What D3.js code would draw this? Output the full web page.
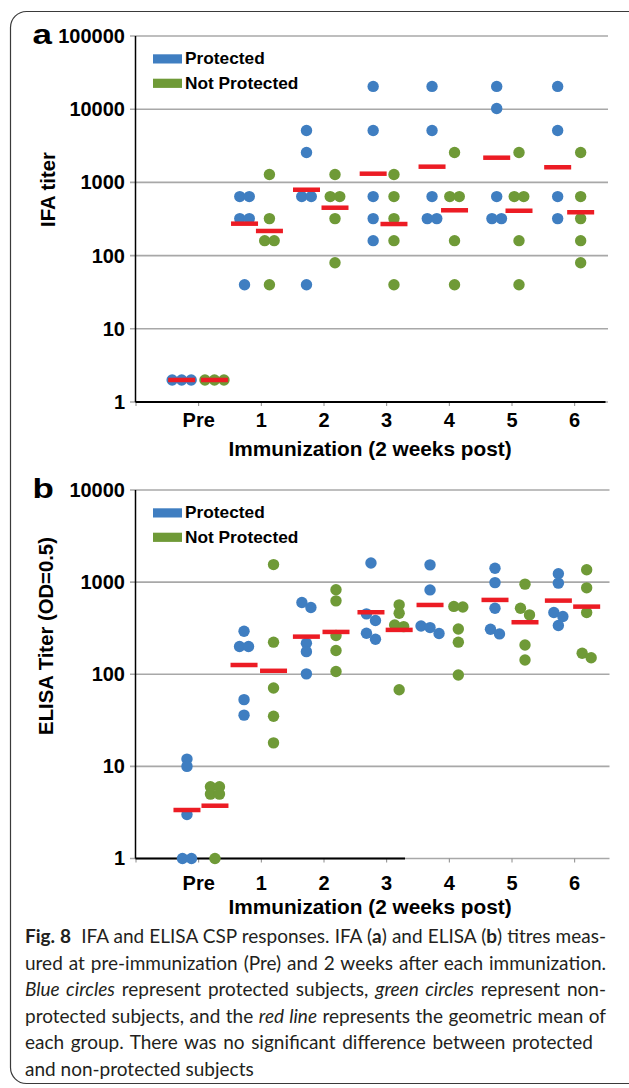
<!DOCTYPE html>
<html>
<head>
<meta charset="utf-8">
<script src="https://cdn.jsdelivr.net/npm/d3@7"></script>
<style>
  body { margin: 0; background: #fff; }
  svg { display: block; }
</style>
</head>
<body>
<svg width="629" height="1088"></svg>
<script>
// ---- data ----
const categories = ['Pre', '1', '2', '3', '4', '5', '6'];
const legendLabels = ['Protected', 'Not Protected'];

// panel a: IFA titres, one list per immunization
const ifaTicks = [1, 10, 100, 1000, 10000, 100000];
const ifaProtected = [
  [2, 2, 2],
  [640, 640, 320, 320, 40],
  [5120, 2560, 640, 640, 40],
  [20480, 5120, 640, 320, 160],
  [20480, 5120, 640, 320, 320],
  [20480, 10240, 640, 320, 320],
  [20480, 5120, 640, 320]
];
const ifaNotProtected = [
  [2, 2, 2],
  [1280, 320, 160, 160, 40],
  [1280, 640, 640, 320, 80],
  [1280, 640, 320, 160, 40],
  [2560, 640, 640, 160, 40],
  [2560, 640, 640, 160, 40],
  [2560, 640, 320, 160, 80]
];
// red bars = geometric means as drawn
const ifaMeanProtected = [2, 273, 794, 1315, 1640, 2175, 1610];
const ifaMeanNotProtected = [2, 217, 451, 270, 416, 410, 391];

// panel b: ELISA titres
const elisaTicks = [1, 10, 100, 1000, 10000];
const elisaProtected = [
  [12, 10, 3, 1, 1],
  [293, 200, 200, 53, 36],
  [600, 530, 217, 176, 101],
  [1610, 452, 383, 279, 240],
  [1540, 823, 334, 321, 277],
  [1416, 988, 521, 308, 274],
  [1231, 975, 468, 423, 338]
];
const elisaNotProtected = [
  [6, 6, 5, 5, 1],
  [1550, 223, 71, 35, 18],
  [825, 626, 263, 181, 107],
  [567, 460, 343, 329, 68],
  [545, 538, 310, 223, 98],
  [951, 521, 441, 208, 143],
  [1361, 867, 468, 169, 151]
];
const elisaMeanProtected = [3.36, 126, 256, 471, 565, 641, 630];
const elisaMeanNotProtected = [3.74, 109, 288, 303, null, 367, 542]; // no bar visible for 4

const captionLines = [
  [['Fig. 8', 'b'], ['  IFA and ELISA CSP responses. IFA ('], ['a', 'b'], [') and ELISA ('], ['b', 'b'], [') titres meas-']],
  [['ured at pre-immunization (Pre) and 2 weeks after each immunization.']],
  [['Blue circles', 'i'], [' represent protected subjects, '], ['green circles', 'i'], [' represent non-']],
  [['protected subjects, and the '], ['red line', 'i'], [' represents the geometric mean of']],
  [['each group. There was no significant difference between protected']],
  [['and non-protected subjects']]
];

(function (d3) {
  'use strict';

  const svg = d3.select('svg');

  const blue = '#3f7ec1';
  const green = '#6f9a37';
  const red = '#ec1c24';
  const gridColor = '#a8a8a8';
  const boldFont = "'Liberation Sans', Arial, sans-serif";

  // same x for both panels, Pre sits at 1, 6 at 7
  const xScale = d3.scaleLinear().domain([0, 7.5]).range([135.5, 605.5]);

  // frame round the whole figure (right side runs off the page)
  svg.append('rect')
    .attr('x', 10.5).attr('y', 11.5)
    .attr('width', 640).attr('height', 1072)
    .attr('rx', 16)
    .attr('fill', 'none')
    .attr('stroke', '#3a3a3a')
    .attr('stroke-width', 1.2);

  // points that sit on top of each other get pushed apart sideways
  const spreadDots = (values, yScale, minGap, step) => {
    const sorted = values.map(v => ({ v, y: yScale(v) })).sort((a, b) => a.y - b.y);
    const bunches = [];
    sorted.forEach(d => {
      const last = bunches[bunches.length - 1];
      if (last && d.y - last[last.length - 1].y < minGap) last.push(d);
      else bunches.push([d]);
    });
    bunches.forEach(b => b.forEach((d, k) => { d.dx = (k - (b.length - 1) / 2) * step; }));
    return sorted;
  };

  const scatterPanel = (selection, props) => {
    const {
      panelLabel, labelY, yTicks, yTop, yBottom, gridRight, xAxisEnd,
      protectedValues, notProtectedValues, protectedMeans, notProtectedMeans,
      shiftP, shiftNP, step, yTitle, yTitleX, yTitleY, xLabelPad, xTitleY, legendTop
    } = props;

    const yScale = d3.scaleLog()
      .domain([1, d3.max(yTicks)])
      .range([yBottom, yTop]);

    const g = selection.append('g');

    // gridlines (they poke out left of the axis like little ticks)
    g.selectAll('.grid').data(yTicks)
      .enter().append('line')
        .attr('class', 'grid')
        .attr('x1', 130).attr('x2', gridRight)
        .attr('y1', d => yScale(d)).attr('y2', d => yScale(d))
        .attr('stroke', gridColor)
        .attr('stroke-width', 1.6);

    const yAxis = d3.axisLeft(yScale)
      .tickValues(yTicks)
      .tickFormat(d3.format('d'))
      .tickSize(0)
      .tickPadding(10.5);
    const yAxisG = g.append('g')
      .attr('transform', 'translate(135.5,0)')
      .call(yAxis);
    yAxisG.select('.domain').remove();
    yAxisG.selectAll('text')
      .attr('font-family', boldFont)
      .attr('font-weight', 'bold')
      .attr('font-size', 20)
      .attr('fill', '#000');

    const xAxis = d3.axisBottom(xScale)
      .tickValues(d3.range(0, 8))
      .tickSize(4)
      .tickPadding(xLabelPad)
      .tickFormat(d => categories[d - 1] || '');
    const xAxisG = g.append('g')
      .attr('transform', `translate(0,${yBottom})`)
      .call(xAxis);
    xAxisG.select('.domain').remove();
    xAxisG.selectAll('line').attr('stroke', '#8a8a8a');
    xAxisG.selectAll('text')
      .attr('font-family', boldFont)
      .attr('font-weight', 'bold')
      .attr('font-size', 20)
      .attr('fill', '#000');

    // axis lines
    g.append('line')
      .attr('x1', 135.5).attr('x2', 135.5)
      .attr('y1', yTop).attr('y2', yBottom)
      .attr('stroke', '#000').attr('stroke-width', 1.5);
    g.append('line')
      .attr('x1', 135.5).attr('x2', xAxisEnd)
      .attr('y1', yBottom).attr('y2', yBottom)
      .attr('stroke', '#000').attr('stroke-width', 2);

    // dots
    const series = [
      { values: protectedValues, shift: shiftP, color: blue },
      { values: notProtectedValues, shift: shiftNP, color: green }
    ];
    series.forEach(s => {
      s.values.forEach((vals, i) => {
        const cx = xScale(i + 1) + s.shift[i];
        g.append('g').selectAll('circle')
          .data(spreadDots(vals, yScale, 7, step))
          .enter().append('circle')
            .attr('cx', d => cx + d.dx)
            .attr('cy', d => d.y)
            .attr('r', 5.7)
            .attr('fill', s.color);
      });
    });

    // geometric mean bars on top
    const means = [
      { values: protectedMeans, shift: shiftP },
      { values: notProtectedMeans, shift: shiftNP }
    ];
    means.forEach(m => {
      g.append('g').selectAll('rect')
        .data(m.values.map((v, i) => ({ v, i })).filter(d => d.v !== null))
        .enter().append('rect')
          .attr('x', d => xScale(d.i + 1) + m.shift[d.i] - 13.5)
          .attr('y', d => yScale(d.v) - 2.25)
          .attr('width', 27)
          .attr('height', 4.5)
          .attr('fill', red);
    });

    // legend
    const legend = g.append('g');
    legendLabels.forEach((label, i) => {
      legend.append('rect')
        .attr('x', 153).attr('y', legendTop + i * 24.4)
        .attr('width', 29).attr('height', 9.2)
        .attr('fill', i === 0 ? blue : green);
      legend.append('text')
        .attr('x', 185).attr('y', legendTop + i * 24.4 + 9.8)
        .attr('font-family', boldFont)
        .attr('font-weight', 'bold')
        .attr('font-size', 17.3)
        .text(label);
    });

    // panel letter, a bit wider than plain Arial
    g.append('text')
      .attr('transform', `translate(32.5,${labelY}) scale(1.25,1)`)
      .attr('font-family', boldFont)
      .attr('font-weight', 'bold')
      .attr('font-size', 28)
      .text(panelLabel);

    g.append('text')
      .attr('transform', `translate(${yTitleX},${yTitleY}) rotate(-90)`)
      .attr('text-anchor', 'middle')
      .attr('font-family', boldFont)
      .attr('font-weight', 'bold')
      .attr('font-size', 20.3)
      .text(yTitle);

    g.append('text')
      .attr('x', 370).attr('y', xTitleY)
      .attr('text-anchor', 'middle')
      .attr('font-family', boldFont)
      .attr('font-weight', 'bold')
      .attr('font-size', 20.8)
      .text('Immunization (2 weeks post)');
  };

  svg.call(scatterPanel, {
    panelLabel: 'a',
    labelY: 44,
    yTicks: ifaTicks,
    yTop: 36,
    yBottom: 402,
    gridRight: 608,
    xAxisEnd: 605.5,
    protectedValues: ifaProtected,
    notProtectedValues: ifaNotProtected,
    protectedMeans: ifaMeanProtected,
    notProtectedMeans: ifaMeanNotProtected,
    shiftP: [-16.5, -16.3, -17, -13, -16.8, -14.8, -16.5],
    shiftNP: [16.3, 8.6, 11.5, 7.8, 5.7, 7.5, 6.5],
    step: 9.5,
    yTitle: 'IFA titer',
    yTitleX: 55,
    yTitleY: 189.5,
    xLabelPad: 6.7,
    xTitleY: 455.5,
    legendTop: 54.3
  });

  svg.call(scatterPanel, {
    panelLabel: 'b',
    labelY: 498,
    yTicks: elisaTicks,
    yTop: 490,
    yBottom: 858.5,
    gridRight: 609.5,
    xAxisEnd: 405,
    protectedValues: elisaProtected,
    notProtectedValues: elisaNotProtected,
    protectedMeans: elisaMeanProtected,
    notProtectedMeans: elisaMeanNotProtected,
    shiftP: [-11.2, -16.8, -17.1, -15.2, -18.8, -16.5, -15.8],
    shiftNP: [16.8, 12.7, 12.5, 13, 9.5, 13.5, 12.5],
    step: 9,
    yTitle: 'ELISA Titer (OD=0.5)',
    yTitleX: 53,
    yTitleY: 636,
    xLabelPad: 12.8,
    xTitleY: 914,
    legendTop: 508.3
  });

  // caption, justified by stretching the word gaps
  const captionWidths = [581, 581, 581, 581, 568, null];
  const caption = svg.append('g')
    .attr('font-family', "Lato, 'Open Sans', sans-serif")
    .attr('font-size', 19)
    .attr('fill', '#231f20');
  captionLines.forEach((parts, i) => {
    const t = caption.append('text')
      .attr('x', 25)
      .attr('y', 943 + i * 26.5)
      .style('white-space', 'pre');
    parts.forEach(([txt, st]) => {
      t.append('tspan')
        .attr('font-weight', st === 'b' ? 'bold' : null)
        .attr('font-style', st === 'i' ? 'italic' : null)
        .text(txt);
    });
    const target = captionWidths[i];
    if (target) {
      const natural = t.node().getComputedTextLength();
      const gaps = (t.text().match(/ /g) || []).length;
      t.attr('word-spacing', (target - natural) / gaps);
    }
  });

}(d3));
</script>
</body>
</html>
